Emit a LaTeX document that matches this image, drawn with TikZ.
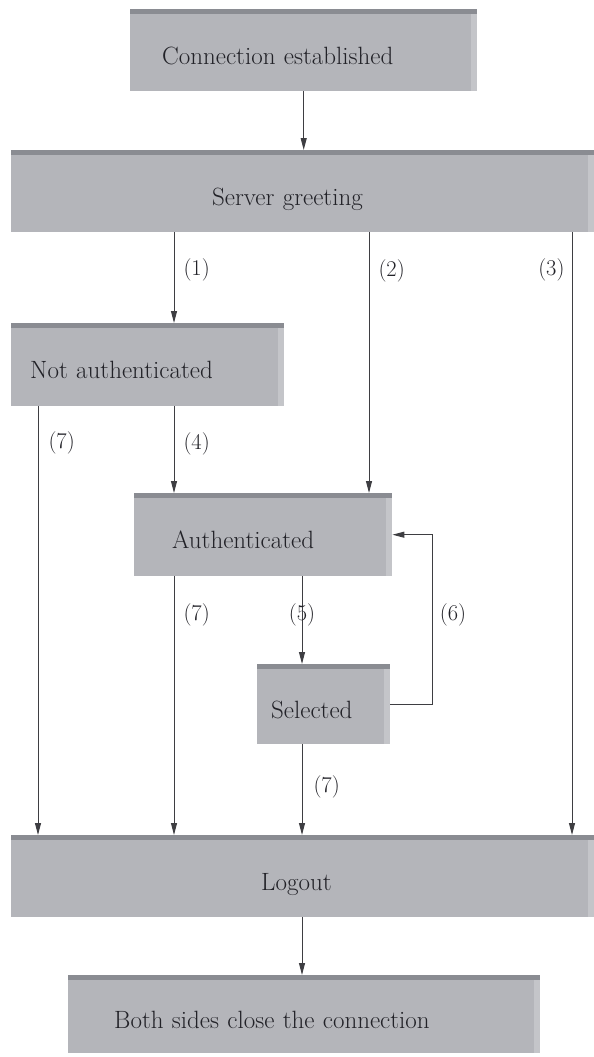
\documentclass[tikz,border=0pt]{standalone}
\usepackage{fontspec}
\usepackage{tikz}
\usetikzlibrary{arrows.meta,positioning,calc}
\definecolor{boxgray}{RGB}{180,181,186}
\definecolor{boxtop}{RGB}{138,140,146}
\definecolor{boxside}{RGB}{196,197,201}
\definecolor{linegray}{RGB}{62,62,66}
\definecolor{txtgray}{RGB}{34,34,40}

\begin{document}
\begin{tikzpicture}[x=1pt, y=-1pt,
    stbox/.style={fill=boxgray, anchor=north west, inner ysep=0pt, align=left,
        text=txtgray, font=\fontsize{25}{30}\selectfont,
        text height=30pt, text depth=2pt,
        path picture={
            \fill[boxtop] (path picture bounding box.north west) rectangle ([yshift=-5pt]path picture bounding box.north east);
            \fill[boxside] ([xshift=-6pt,yshift=-5pt]path picture bounding box.north east) rectangle (path picture bounding box.south east);
        }},
    lbl/.style={inner sep=0pt, text=txtgray, font=\fontsize{22.5}{26}\selectfont},
    conn/.style={draw=linegray, line width=1pt, ->},
    >={Triangle[length=12pt,width=6pt]}]
    \useasboundingbox (0,0) rectangle (594,1057);
    % States
    \node[stbox, minimum height=82pt, text width=283pt, inner xsep=32pt] (ce) at (130,9) {Connection established};
    \node[stbox, minimum height=82pt, text width=181pt, inner xsep=201pt] (sg) at (11,150) {Server greeting};
    \node[stbox, minimum height=83pt, text width=235pt, inner xsep=19pt] (na) at (11,323) {Not authenticated};
    \node[stbox, minimum height=83pt, text width=182pt, inner xsep=38pt] (au) at (134,493) {Authenticated};
    \node[stbox, minimum height=80pt, text width=105pt, inner xsep=14pt] (se) at (257,664) {Selected};
    \node[stbox, minimum height=82pt, text width=83pt, inner xsep=250pt] (lo) at (11,835) {Logout};
    \node[stbox, minimum height=78pt, text width=380pt, inner xsep=46pt] (bs) at (68,975) {Both sides close the connection};

    % Columns of the transitions
    \coordinate (c7) at (38,0);
    \coordinate (c1) at (174,0);
    \coordinate (c5) at (302,0);
    \coordinate (c2) at (369,0);
    \coordinate (c3) at (572,0);

    \draw[conn] (ce.south) -- (ce.south |- sg.north);
    \draw[conn] (sg.south -| c1) -- node[lbl, right=9pt, pos=.41] (l1) {(1)} (na.north -| c1);
    \draw[conn] (sg.south -| c2) -- node[lbl, right=9pt, pos=.146] (l2) {(2)} (au.north -| c2);
    \draw[conn] (sg.south -| c3) -- node[lbl, left=7pt, pos=.063] (l3) {(3)} (lo.north -| c3);
    \draw[conn] (na.south -| c7) -- node[lbl, right=10pt, pos=.086] (l7a) {(7)} (lo.north -| c7);
    \draw[conn] (na.south -| c1) -- node[lbl, right=9pt, pos=.43] (l4) {(4)} (au.north -| c1);
    \draw[conn] (au.south -| c1) -- node[lbl, right=9pt, pos=.15] (l7b) {(7)} (lo.north -| c1);
    \draw[conn] (au.south -| c5) -- node[lbl, pos=.44] (l5) {(5)} (se.north -| c5);
    \draw[conn] (se.south -| c5) -- node[lbl, right=11pt, pos=.47] (l7c) {(7)} (lo.north -| c5);
    % Back to authenticated
    \draw[conn] (se.east) -- ++(42,0) coordinate (c6)
        -- node[lbl, right=7pt, pos=.525] (l6) {(6)} (c6 |- au.east) -- (au.east);

    \draw[conn] (lo.south -| c5) -- (bs.north -| c5);
\end{tikzpicture}
\end{document}
